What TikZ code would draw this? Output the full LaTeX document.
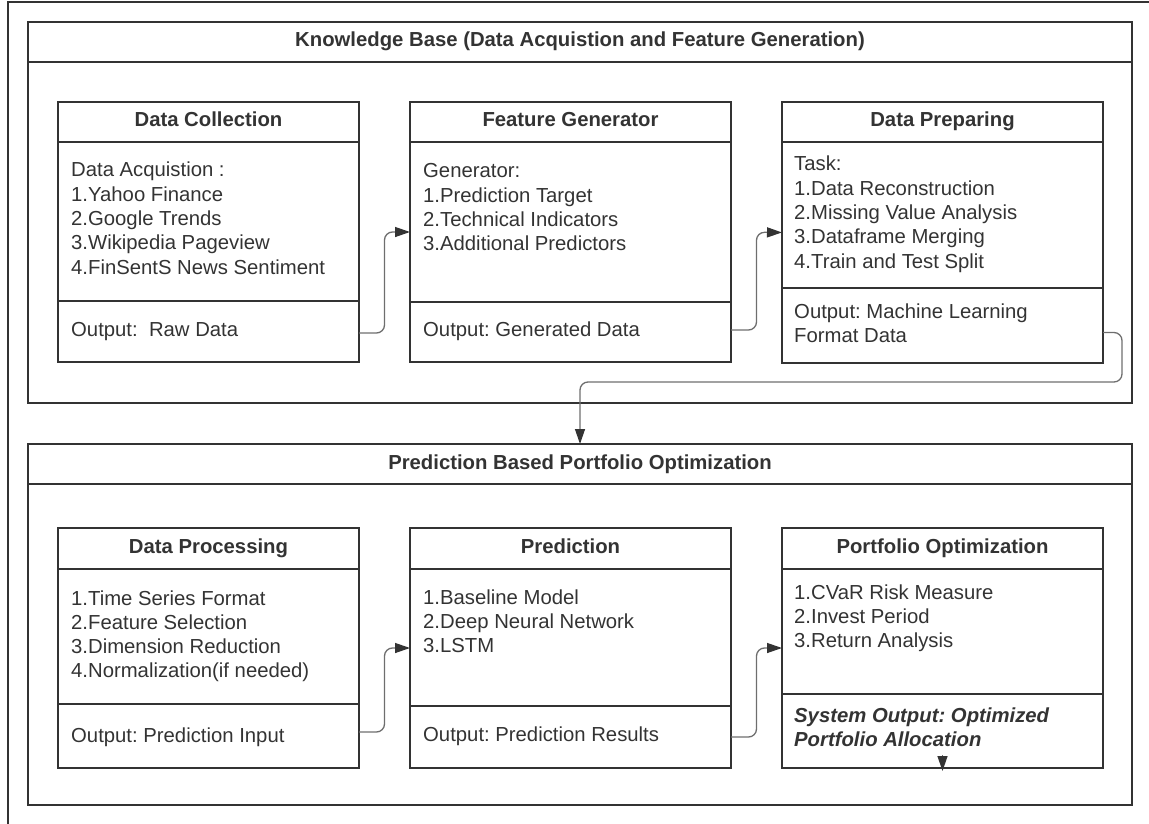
\documentclass[tikz,border=0pt]{standalone}
\usepackage{fontspec}
\setmainfont{Liberation Sans}
\usetikzlibrary{arrows.meta,calc}
\definecolor{ink}{HTML}{333333}
\definecolor{wire}{HTML}{6E6E6E}
\newcommand\stacklines[1]{\begin{tabular}[t]{@{}l@{}}#1\end{tabular}}
\tikzset{
  panel/.style={draw=ink, line width=2pt, anchor=north west, inner sep=0pt, outer sep=0pt},
  divider/.style={draw=ink, line width=2pt},
  heading/.style={anchor=base, text=ink, inner sep=0pt, font=\fontsize{20.3}{23}\selectfont\bfseries\frenchspacing},
  body/.style={anchor=base west, text=ink, inner sep=0pt, font=\fontsize{20.3}{24.3}\selectfont\frenchspacing},
  flow/.style={draw=wire, line width=1.3pt, rounded corners=8pt,
    -{Triangle[length=15pt,width=10pt,color=ink]}},
}
\begin{document}
\begin{tikzpicture}[x=1pt,y=-1pt]
\useasboundingbox (0,0) rectangle (1149,824);
% outer frame
\draw[ink, line width=2pt] (8,824) -- (8,2) -- (1149,2);

% ---- upper stage: knowledge base ----
\node[panel, minimum width=1104pt, minimum height=381pt] (kb) at (28,22) {};
\draw[divider] (28,62) -- (1132,62);
\node[heading] (kbt) at ($(kb.north)+(0,25)$) {Knowledge Base (Data Acquistion and Feature Generation)};

\node[panel, minimum width=301pt, minimum height=260pt] (dc) at (58,102) {};
\draw[divider] (58,142) -- (359,142);
\draw[divider] (58,301) -- (359,301);
\node[heading] (dct) at ($(dc.north)+(0,25)$) {Data Collection};
\node[body] (dcb) at (71,177) {\stacklines{Data Acquistion :\\1.Yahoo Finance\\2.Google Trends\\3.Wikipedia Pageview\\4.FinSentS News Sentiment}};
\node[body] (dco) at (71,336) {Output:\ \ Raw Data};

\node[panel, minimum width=321pt, minimum height=260pt] (fg) at (410,102) {};
\draw[divider] (410,142) -- (731,142);
\draw[divider] (410,302) -- (731,302);
\node[heading] (fgt) at ($(fg.north)+(0,25)$) {Feature Generator};
\node[body] (fgb) at (423,178) {\stacklines{Generator:\\1.Prediction Target\\2.Technical Indicators\\3.Additional Predictors}};
\node[body] (fgo) at (423,336) {Output: Generated Data};

\node[panel, minimum width=321pt, minimum height=261pt] (dp) at (782,102) {};
\draw[divider] (782,142) -- (1103,142);
\draw[divider] (782,288) -- (1103,288);
\node[heading] (dpt) at ($(dp.north)+(0,25)$) {Data Preparing};
\node[body] (dpb) at (794,171) {\stacklines{Task:\\1.Data Reconstruction\\2.Missing Value Analysis\\3.Dataframe Merging\\4.Train and Test Split}};
\node[body] (dpo) at (794,318) {\stacklines{Output: Machine Learning\\Format Data}};

% ---- lower stage: prediction based optimization ----
\node[panel, minimum width=1104pt, minimum height=361pt] (pb) at (28,444) {};
\draw[divider] (28,484) -- (1132,484);
\node[heading] (pbt) at ($(pb.north)+(0,25)$) {Prediction Based Portfolio Optimization};

\node[panel, minimum width=301pt, minimum height=240pt] (dpr) at (58,528) {};
\draw[divider] (58,569) -- (359,569);
\draw[divider] (58,704) -- (359,704);
\node[heading] (dprt) at ($(dpr.north)+(0,25)$) {Data Processing};
\node[body] (dprb) at (71,605) {\stacklines{1.Time Series Format\\2.Feature Selection\\3.Dimension Reduction\\4.Normalization(if needed)}};
\node[body] (dpro) at (71,742) {Output: Prediction Input};

\node[panel, minimum width=321pt, minimum height=240pt] (pr) at (410,528) {};
\draw[divider] (410,569) -- (731,569);
\draw[divider] (410,706) -- (731,706);
\node[heading] (prt) at ($(pr.north)+(0,25)$) {Prediction};
\node[body] (prb) at (423,604) {\stacklines{1.Baseline Model\\2.Deep Neural Network\\3.LSTM}};
\node[body] (pro) at (423,741) {Output: Prediction Results};

\node[panel, minimum width=321pt, minimum height=240pt] (po) at (782,528) {};
\draw[divider] (782,569) -- (1103,569);
\draw[divider] (782,694) -- (1103,694);
\node[heading] (pot) at ($(po.north)+(0,25)$) {Portfolio Optimization};
\node[body] (pob) at (794,599) {\stacklines{1.CVaR Risk Measure\\2.Invest Period\\3.Return Analysis}};
\node[body, font=\fontsize{20.3}{24.8}\selectfont\bfseries\itshape\frenchspacing] (poo) at (794,722) {\stacklines{System Output: Optimized\\Portfolio Allocation}};

% ---- connectors ----
\coordinate (m1) at ($(dc.east)!.5!(fg.west)$);
\coordinate (m2) at ($(fg.east)!.5!(dp.west)$);
\coordinate (m3) at ($(dpr.east)!.5!(pr.west)$);
\coordinate (m4) at ($(pr.east)!.5!(po.west)$);
\coordinate (turn) at (1122,382);

\draw[flow] ($(dc.east)+(0,101)$) -| (m1) -- (fg.west);
\draw[flow] ($(fg.east)+(0,98)$) -| (m2) -- (dp.west);
\draw[flow] ($(dp.east)+(0,100)$) -| (turn) -| (pb.north);
\draw[flow] ($(dpr.east)+(0,84)$) -| (m3) -- (pr.west);
\draw[flow] ($(pr.east)+(0,89)$) -| (m4) -- (po.west);
\draw[flow] ($(po.south)+(0,-13)$) -- ($(po.south)+(0,3)$);
\end{tikzpicture}
\end{document}
